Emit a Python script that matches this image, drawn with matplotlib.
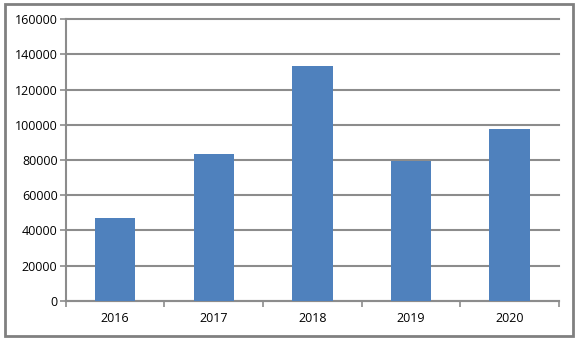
import matplotlib.pyplot as plt
from matplotlib.patches import Rectangle
import numpy as np

# Data
years = ['2016', '2017', '2018', '2019', '2020']
values = [47200, 83500, 133500, 79300, 97800]
y_ticks = [0, 20000, 40000, 60000, 80000, 100000, 120000, 140000, 160000]

plt.rcParams['font.family'] = ['Open Sans', 'DejaVu Sans']

fig = plt.figure(figsize=(5.78, 3.40), dpi=100)
ax = fig.add_axes([0.114, 0.115, 0.853, 0.829])

x = np.arange(len(years))
ax.bar(x, values, width=0.41, color='#4f81bd', zorder=3)

ax.set_xlim(-0.5, len(years) - 0.5)
ax.set_ylim(0, 160000)
ax.set_yticks(y_ticks)
ax.set_yticklabels([str(t) for t in y_ticks], fontsize=9)
ax.set_xticks(x)
ax.set_xticklabels(years, fontsize=9)
ax.set_xticks(np.arange(-0.5, len(years)), minor=True)

ax.grid(axis='y', color='#8c8c8c', linewidth=1.5, zorder=0)
for gl in ax.get_ygridlines():
    gl.set_clip_on(False)
for s in ['top', 'right']:
    ax.spines[s].set_visible(False)
ax.spines['left'].set_color('#8c8c8c')
ax.spines['left'].set_linewidth(1.5)
ax.spines['bottom'].set_color('#8c8c8c')
ax.spines['bottom'].set_linewidth(1.5)

ax.tick_params(axis='y', length=4, color='#8c8c8c', width=1.2, pad=2)
ax.tick_params(axis='x', which='major', length=0, pad=8)
ax.tick_params(axis='x', which='minor', length=4, color='#8c8c8c', width=1.2)

# Outer border
fig.patches.append(Rectangle((0.008, 0.012), 0.984, 0.975, transform=fig.transFigure,
                             fill=False, edgecolor='#808080', linewidth=2))

fig.savefig('out.png', dpi=100)
